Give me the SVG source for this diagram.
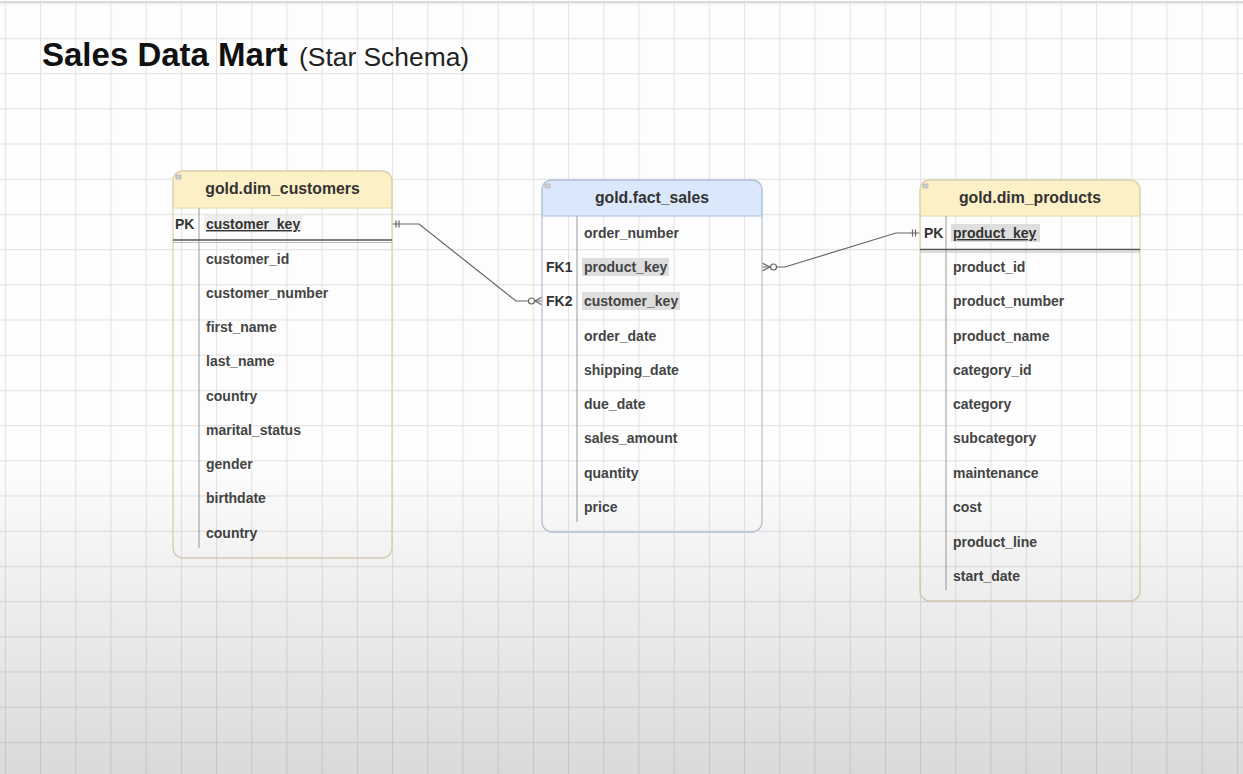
<svg xmlns="http://www.w3.org/2000/svg" width="1243" height="774" viewBox="0 0 1243 774">
<defs>
  <pattern id="grid" x="4.8" y="2.6" width="35.2" height="35.2" patternUnits="userSpaceOnUse">
    <path d="M0 0.5 H35.2 M0.5 0 V35.2" fill="none" stroke="#e4e4e4" stroke-width="1.2"/>
  </pattern>
  <linearGradient id="shade" x1="0" y1="0" x2="0" y2="1">
    <stop offset="0" stop-color="#000" stop-opacity="0"/>
    <stop offset="1" stop-color="#000" stop-opacity="0.14"/>
  </linearGradient>
  <style>
    .title{font-family:"Liberation Sans",Arial,sans-serif;font-weight:bold;font-size:33px;fill:#111}
    .sub{font-family:"Liberation Sans",Arial,sans-serif;font-size:26.4px;fill:#222}
    .hdr{font-family:"Liberation Sans",Arial,sans-serif;font-weight:bold;font-size:15.8px;fill:#333;text-anchor:middle}
    .row{font-family:"Liberation Sans",Arial,sans-serif;font-weight:bold;font-size:14px;fill:#444}
    .key{font-family:"Liberation Sans",Arial,sans-serif;font-weight:bold;font-size:14px;fill:#333}
    .ul{text-decoration:underline}
    .ybox{fill:none;stroke:#dcd3b4;stroke-width:1.3}
    .yhdr{fill:#fcf0c6;stroke:#e8d8a4;stroke-width:1}
    .bbox{fill:none;stroke:#b9c5d8;stroke-width:1.3}
    .bhdr{fill:#dbe7fa;stroke:#a9bfe0;stroke-width:1}
    .div{stroke:#9a9a9a;stroke-width:1}
    .sep{stroke:#555;stroke-width:1.6}
    .sep2{stroke:#bbb;stroke-width:1}
    .hl{fill:#dedede}
    .icon{fill:#cfcfcf;stroke:#aaa;stroke-width:0.6}
    .conn{fill:none;stroke:#666;stroke-width:1.2}
    .circ{fill:#fff;stroke:#666;stroke-width:1.2}
  </style>
</defs>
<rect width="1243" height="774" fill="#fdfdfd"/>
<rect width="1243" height="774" fill="url(#grid)"/>
<line x1="0" y1="2" x2="1243" y2="2" stroke="#dadada" stroke-width="2"/>

<g id="title">
  <text class="title" x="42" y="66">Sales Data Mart</text>
  <text class="sub" x="299" y="66">(Star Schema)</text>
</g>

<g id="connectors">
  <!-- customers.customer_key -> fact_sales.customer_key -->
  <polyline class="conn" points="392,224 419,224 516,301 542,301"/>
  <line class="conn" x1="396" y1="220.5" x2="396" y2="227.5"/>
  <line class="conn" x1="399" y1="220.5" x2="399" y2="227.5"/>
  <polyline class="conn" points="542,297 535,301 542,305"/>
  <circle class="circ" cx="531.5" cy="301" r="3"/>
  <!-- fact_sales.product_key -> products.product_key -->
  <polyline class="conn" points="762,267 785,267 896,233 920,233"/>
  <polyline class="conn" points="762,263 770,267 762,271"/>
  <circle class="circ" cx="773.5" cy="267" r="3"/>
  <line class="conn" x1="912.5" y1="229.5" x2="912.5" y2="236.5"/>
  <line class="conn" x1="915.5" y1="229.5" x2="915.5" y2="236.5"/>
</g>

<g id="dim_customers">
  <path class="yhdr" d="M173,208 V181 Q173,171 183,171 H382 Q392,171 392,181 V208 Z"/>
  <rect class="ybox" x="173" y="171" width="219" height="387" rx="10"/>
  <rect class="icon" x="176" y="175" width="5" height="4"/>
  <text class="hdr" x="282.5" y="194">gold.dim_customers</text>
  <line class="div" x1="199" y1="208" x2="199" y2="548"/>
  <line class="sep" x1="173" y1="240" x2="392" y2="240"/>
  <line class="sep2" x1="173" y1="242.5" x2="392" y2="242.5"/>
  <text class="key" x="175" y="229">PK</text>
  <rect class="hl" x="204" y="215" width="98" height="17" opacity="0.45"/>
  <text class="key ul" x="206" y="229">customer_key</text>
  <text class="row" x="206" y="264">customer_id</text>
  <text class="row" x="206" y="298">customer_number</text>
  <text class="row" x="206" y="332">first_name</text>
  <text class="row" x="206" y="366">last_name</text>
  <text class="row" x="206" y="401">country</text>
  <text class="row" x="206" y="435">marital_status</text>
  <text class="row" x="206" y="469">gender</text>
  <text class="row" x="206" y="503">birthdate</text>
  <text class="row" x="206" y="538">country</text>
</g>

<g id="fact_sales">
  <path class="bhdr" d="M542,216 V190 Q542,180 552,180 H752 Q762,180 762,190 V216 Z"/>
  <rect class="bbox" x="542" y="180" width="220" height="352" rx="10"/>
  <rect class="icon" x="545" y="184" width="5" height="4"/>
  <text class="hdr" x="652" y="203">gold.fact_sales</text>
  <line class="div" x1="577" y1="216" x2="577" y2="522"/>
  <text class="row" x="584" y="238">order_number</text>
  <rect class="hl" x="582" y="258" width="87" height="18"/>
  <text class="key" x="546" y="272">FK1</text>
  <text class="row" x="584" y="272">product_key</text>
  <rect class="hl" x="582" y="292" width="98" height="18"/>
  <text class="key" x="546" y="306">FK2</text>
  <text class="row" x="584" y="306">customer_key</text>
  <text class="row" x="584" y="341">order_date</text>
  <text class="row" x="584" y="375">shipping_date</text>
  <text class="row" x="584" y="409">due_date</text>
  <text class="row" x="584" y="443">sales_amount</text>
  <text class="row" x="584" y="478">quantity</text>
  <text class="row" x="584" y="512">price</text>
</g>

<g id="dim_products">
  <path class="yhdr" d="M920,216 V190 Q920,180 930,180 H1130 Q1140,180 1140,190 V216 Z"/>
  <rect class="ybox" x="920" y="180" width="220" height="421" rx="10"/>
  <rect class="icon" x="923" y="184" width="5" height="4"/>
  <text class="hdr" x="1030" y="203">gold.dim_products</text>
  <line class="div" x1="946" y1="216" x2="946" y2="590"/>
  <line class="sep" x1="920" y1="249.5" x2="1140" y2="249.5"/>
  <line class="sep2" x1="920" y1="252" x2="1140" y2="252"/>
  <text class="key" x="924" y="238">PK</text>
  <rect class="hl" x="951" y="224" width="89" height="18"/>
  <text class="key ul" x="953" y="238">product_key</text>
  <text class="row" x="953" y="272">product_id</text>
  <text class="row" x="953" y="306">product_number</text>
  <text class="row" x="953" y="341">product_name</text>
  <text class="row" x="953" y="375">category_id</text>
  <text class="row" x="953" y="409">category</text>
  <text class="row" x="953" y="443">subcategory</text>
  <text class="row" x="953" y="478">maintenance</text>
  <text class="row" x="953" y="512">cost</text>
  <text class="row" x="953" y="547">product_line</text>
  <text class="row" x="953" y="581">start_date</text>
</g>

<rect x="0" y="460" width="1243" height="314" fill="url(#shade)"/>
</svg>
